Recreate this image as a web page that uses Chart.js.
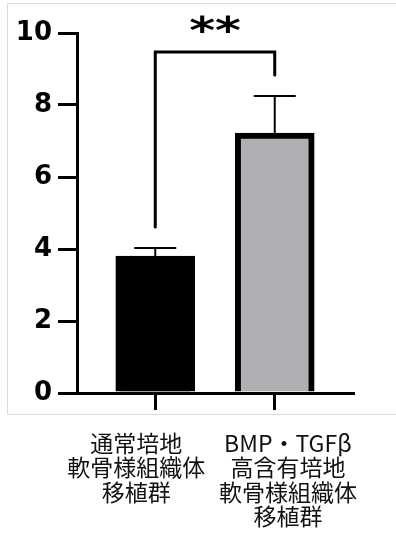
<!DOCTYPE html>
<html>
<head>
<meta charset="utf-8">
<script src="https://cdn.jsdelivr.net/npm/chart.js@4.4.1/dist/chart.umd.min.js"></script>
<style>
  html, body { margin: 0; padding: 0; background: #ffffff; }
  #wrap { width: 396px; height: 539px; position: relative; }
</style>
</head>
<body>
<div id="wrap"><canvas id="c" width="396" height="539"></canvas></div>
<script>
// ---- data ----
const categories = [
  ['通常培地', '軟骨様組織体', '移植群'],
  ['BMP・TGFβ', '高含有培地', '軟骨様組織体', '移植群']
];
const means = [3.8, 7.22];
const sems = [0.23, 1.03];
const yTicks = [0, 2, 4, 6, 8, 10];
const significance = '**';
const sigLevel = 9.47;

const barColors = ['#000000', '#b0afb4'];

const frame = {
  id: 'frame',
  beforeDraw(chart) {
    const ctx = chart.ctx;
    ctx.save();
    ctx.strokeStyle = '#dcdcdc';
    ctx.lineWidth = 1;
    ctx.beginPath();
    ctx.moveTo(400, 3.5);
    ctx.lineTo(7.5, 3.5);
    ctx.lineTo(7.5, 414.5);
    ctx.lineTo(400, 414.5);
    ctx.stroke();
    ctx.restore();
  }
};

const errorAndSig = {
  id: 'errorAndSig',
  afterDatasetsDraw(chart) {
    const ctx = chart.ctx;
    const xs = chart.scales.x, ys = chart.scales.y;
    ctx.save();
    ctx.strokeStyle = '#000';
    // error bars (upper only)
    ctx.lineWidth = 2;
    means.forEach((m, i) => {
      const px = xs.getPixelForValue(i);
      const top = ys.getPixelForValue(m);
      const e = ys.getPixelForValue(m + sems[i]);
      ctx.beginPath();
      ctx.moveTo(px, top);
      ctx.lineTo(px, e);
      ctx.moveTo(px - 21, e);
      ctx.lineTo(px + 21, e);
      ctx.stroke();
    });
    // significance bracket
    const gap = 0.58;
    const x0 = xs.getPixelForValue(0), x1 = xs.getPixelForValue(1);
    const yb = ys.getPixelForValue(sigLevel);
    ctx.lineWidth = 3;
    ctx.lineCap = 'round';
    ctx.beginPath();
    ctx.moveTo(x0, ys.getPixelForValue(means[0] + sems[0] + gap));
    ctx.lineTo(x0, yb);
    ctx.lineTo(x1, yb);
    ctx.lineTo(x1, ys.getPixelForValue(means[1] + sems[1] + gap));
    ctx.stroke();
    // stars
    ctx.fillStyle = '#000';
    ctx.font = 'bold 38px "DejaVu Sans"';
    ctx.textAlign = 'center';
    ctx.textBaseline = 'middle';
    ctx.translate((x0 + x1) / 2, yb - 19);
    ctx.scale(1.3, 1);
    ctx.fillText(significance, 0, 0);
    ctx.restore();
  }
};

new Chart(document.getElementById('c'), {
  type: 'bar',
  data: {
    labels: categories.map(c => c.join('')),
    datasets: [{
      data: means.map((v, i) => ({ x: i, y: v })),
      backgroundColor: barColors,
      borderColor: '#000000',
      borderWidth: 6,
      borderSkipped: 'start',
      barThickness: 79
    }]
  },
  options: {
    responsive: false,
    animation: false,
    events: [],
    layout: { padding: { left: 0, right: 43, top: 33, bottom: 0 } },
    plugins: { legend: { display: false }, tooltip: { enabled: false } },
    scales: {
      x: {
        type: 'linear',
        position: 'bottom',
        weight: 0,
        min: -0.655,
        max: 1.655,
        offset: false,
        afterBuildTicks: s => { s.ticks = means.map((_, i) => ({ value: i })); },
        afterFit: s => { s.height = 17; },
        ticks: { display: false },
        grid: { display: true, offset: false, drawOnChartArea: false, drawTicks: true, tickLength: 17, color: '#000', lineWidth: 3 },
        border: { display: true, color: '#000', width: 3 }
      },
      x2: {
        type: 'linear',
        position: 'bottom',
        weight: 1,
        min: -0.655,
        max: 1.655,
        offset: false,
        afterBuildTicks: s => { s.ticks = [{ value: -0.16 }, { value: 1.11 }]; },
        afterFit: s => { s.height = 129; },
        ticks: {
          display: true,
          autoSkip: false,
          maxRotation: 0,
          minRotation: 0,
          padding: 13,
          color: '#111',
          font: { family: '"Noto Sans CJK JP"', size: 23, lineHeight: 1.06 },
          callback: (v, i) => categories[i]
        },
        grid: { display: false },
        border: { display: false }
      },
      y: {
        type: 'linear',
        min: 0,
        max: 10,
        afterBuildTicks: s => { s.ticks = yTicks.map(v => ({ value: v })); },
        afterFit: s => { s.width = 77; },
        ticks: {
          padding: 6,
          color: '#000',
          font: { family: '"DejaVu Sans"', weight: 'bold', size: 26 }
        },
        grid: { display: true, drawOnChartArea: false, drawTicks: true, tickLength: 19, color: '#000', lineWidth: 3 },
        border: { display: true, color: '#000', width: 3 }
      }
    }
  },
  plugins: [frame, errorAndSig]
});
</script>
</body>
</html>
